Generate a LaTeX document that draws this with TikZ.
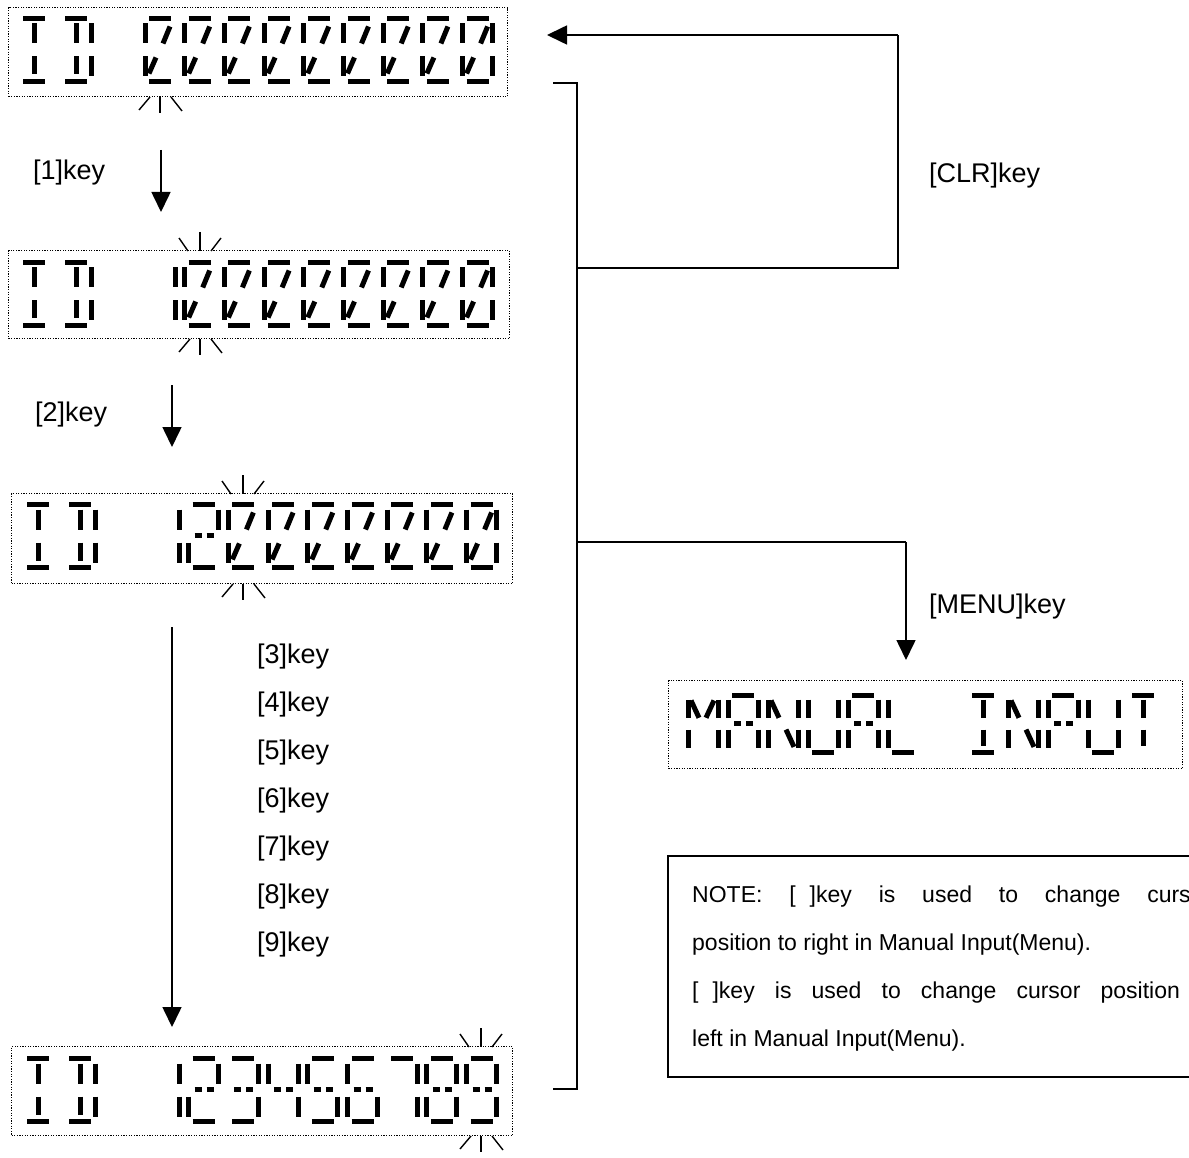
\documentclass[tikz,border=0pt]{standalone}
\usepackage{fontspec}
\setmainfont{Liberation Sans}
\usetikzlibrary{arrows.meta}
\tikzset{
  seg/.style={line width=5pt},
  disp/.style={draw, dash pattern=on 1.2pt off 1.4pt, line width=1.2pt, inner sep=0pt, anchor=north west},
  conn/.style={line width=1.8pt},
  arr/.style={line width=1.6pt, -{Triangle[width=19pt,length=20pt]}},
  blink/.style={line width=1.4pt},
  lbl/.style={font=\fontsize{27}{32}\selectfont, anchor=base west, inner sep=0pt},
  notetxt/.style={font=\fontsize{23}{28}\selectfont, anchor=base west, inner sep=0pt},
}
% segments (x relative to cell left, y relative to top bar centre, downwards)
\def\Sga{\draw[seg] (6,0)--(28,0);}
\def\Sgd{\draw[seg] (6,63)--(28,63);}
\def\Sggl{\draw[seg] (8,31)--(15,31);}
\def\Sggr{\draw[seg] (20,31)--(27,31);}
\def\Sgf{\draw[seg] (2,5)--(2,25);}
\def\Sge{\draw[seg] (2,38)--(2,58);}
\def\Sgb{\draw[seg] (32,5)--(32,25);}
\def\Sgc{\draw[seg] (32,38)--(32,58);}
\def\Sgdu{\draw[seg] (20,25)--(27,8);}
\def\Sgdl{\draw[seg] (6,55)--(13,39);}
\def\Sgcu{\draw[seg] (17,5)--(17,25);}
\def\Sgcl{\draw[seg] (17,38)--(17,56);}
\def\Sgml{\draw[seg] (5,6)--(13,25);}
\def\Sgmr{\draw[seg] (28,6)--(20,25);}
\def\Sgnl{\draw[seg] (20,38)--(28,57);}
% characters
\def\Cz{a,d,f,e,du,dl}
\def\Czl{a,d,f,e,du,dl,b,c}
\def\CI{a,d,cu,cl}
\def\CD{a,d,cu,cl,b,c}
\def\Cone{b,c}
\def\Ctwo{a,b,gl,gr,e,d}
\def\Cthree{a,b,gl,gr,c,d}
\def\Cfour{f,b,gl,gr,c}
\def\Cfive{a,f,gl,gr,c,d}
\def\Csix{a,f,gl,gr,e,c,d}
\def\Cseven{a,b,c}
\def\Ceight{a,b,c,d,e,f,gl,gr}
\def\Cnine{a,f,b,gl,gr,c,d}
\def\CM{f,e,b,c,ml,mr}
\def\CA{a,f,b,gl,gr,e,c}
\def\CN{f,e,b,c,ml,nl}
\def\CU{f,e,b,c,d}
\def\CL{f,e,d}
\def\CP{a,f,b,gl,gr,e}
\def\CT{a,cu,cl}
\newcommand\chr[3]{\begin{scope}[shift={(#1,#2)}]\foreach \s in #3 {\csname Sg\s\endcsname}\end{scope}}
\newcommand\blinkup[2]{%
  \draw[blink] (#1-21,#2-12)--(#1-12,#2+1);
  \draw[blink] (#1,#2-18)--(#1,#2+1);
  \draw[blink] (#1+11,#2+1)--(#1+21,#2-12);}
\newcommand\blinkdn[2]{%
  \draw[blink] (#1-21,#2+13)--(#1-10,#2);
  \draw[blink] (#1,#2)--(#1,#2+16);
  \draw[blink] (#1+11,#2)--(#1+22,#2+14);}
\begin{document}
\begin{tikzpicture}[x=1pt,y=-1pt]
\useasboundingbox (0,0) rectangle (1189,1158);
\clip (0,0) rectangle (1189,1158);
\fill[white] (0,0) rectangle (1189,1158);

% display boxes
\node[disp, minimum width=499pt, minimum height=89pt] (d1) at (8,7) {};
\node[disp, minimum width=501pt, minimum height=88pt] (d2) at (8,250) {};
\node[disp, minimum width=501pt, minimum height=90pt] (d3) at (11,493) {};
\node[disp, minimum width=501pt, minimum height=89pt] (d4) at (11,1046) {};
\node[disp, minimum width=514pt, minimum height=88pt] (dm) at (668,680) {};

% display 1
\chr{17}{18.5}{\CI}\chr{59}{18.5}{\CD}
\foreach \i in {0,...,7}{\chr{143+39.7*\i}{18.5}{\Cz}}
\chr{143+39.7*8}{18.5}{\Czl}
\blinkdn{160}{97}

% display 2
\chr{17}{262.5}{\CI}\chr{59}{262.5}{\CD}
\chr{143}{262.5}{\Cone}
\foreach \i in {1,...,7}{\chr{143+39.7*\i}{262.5}{\Cz}}
\chr{143+39.7*8}{262.5}{\Czl}
\blinkup{200}{250}
\blinkdn{200}{339}

% display 3
\chr{21}{504.5}{\CI}\chr{63}{504.5}{\CD}
\chr{147}{504.5}{\Cone}
\chr{147+39.7}{504.5}{\Ctwo}
\foreach \i in {2,...,7}{\chr{147+39.7*\i}{504.5}{\Cz}}
\chr{147+39.7*8}{504.5}{\Czl}
\blinkup{243}{493}
\blinkdn{243}{584}

% display 4
\chr{21}{1058.5}{\CI}\chr{63}{1058.5}{\CD}
\chr{147}{1058.5}{\Cone}
\chr{147+39.7}{1058.5}{\Ctwo}
\chr{147+39.7*2}{1058.5}{\Cthree}
\chr{147+39.7*3}{1058.5}{\Cfour}
\chr{147+39.7*4}{1058.5}{\Cfive}
\chr{147+39.7*5}{1058.5}{\Csix}
\chr{147+39.7*6}{1058.5}{\Cseven}
\chr{147+39.7*7}{1058.5}{\Ceight}
\chr{147+39.7*8}{1058.5}{\Cnine}
\blinkup{481}{1046}
\blinkdn{481}{1136}

% MANUAL INPUT display
\begin{scope}[shift={(686,695)}, yscale=0.91]
\chr{0}{0}{\CM}
\chr{40}{0}{\CA}
\chr{80}{0}{\CN}
\chr{120}{0}{\CU}
\chr{160}{0}{\CA}
\chr{200}{0}{\CL}
\chr{280}{0}{\CI}
\chr{320}{0}{\CN}
\chr{360}{0}{\CP}
\chr{400}{0}{\CU}
\chr{440}{0}{\CT}
\end{scope}

% left arrows
\coordinate (a1s) at (161,150); \coordinate (a1e) at (161,212);
\coordinate (a2s) at (172,385); \coordinate (a2e) at (172,447);
\coordinate (a3s) at (172,627); \coordinate (a3e) at (172,1027);
\draw[arr] (a1s) -- (a1e);
\draw[arr] (a2s) -- (a2e);
\draw[arr] (a3s) -- (a3e);
\node[lbl] (k1) at (33,180) {[1]key};
\node[lbl] (k2) at (35,421) {[2]key};
\foreach \n [count=\j from 0] in {3,...,9}{
  \node[lbl] (k\n) at (257,663+48*\j) {[\n]key};
}

% right bracket
\coordinate (bt0) at (553,83); \coordinate (bt) at (577,83);
\coordinate (bb0) at (553,1089); \coordinate (bb) at (577,1089);
\coordinate (bclr) at (577,268); \coordinate (bmenu) at (577,542);
\draw[conn] (bt0) -- (bt) -- (bb) -- (bb0);
\coordinate (clrA) at (898,268); \coordinate (clrB) at (898,35); \coordinate (clrE) at (547,35);
\draw[conn] (bclr) -- (clrA) -- (clrB);
\draw[arr] (clrB) -- (clrE);
\coordinate (mnA) at (906,542); \coordinate (mnE) at (906,660);
\draw[conn] (bmenu) -- (mnA);
\draw[arr] (mnA) -- (mnE);
\node[lbl] (kclr) at (929,183) {[CLR]key};
\node[lbl] (kmenu) at (929,613) {[MENU]key};

% note box
\draw[line width=1.5pt] (1200,856) -- (668,856) -- (668,1077) -- (1200,1077);
\node[notetxt] (n1) at (692,902) {\makebox[519pt][s]{NOTE: [\hspace{14pt}]key is used to change cursor}};
\node[notetxt] (n2) at (692,950) {position to right in Manual Input(Menu).};
\node[notetxt] (n3) at (692,998) {\makebox[527pt][s]{[\hspace{14pt}]key is used to change cursor position to}};
\node[notetxt] (n4) at (692,1046) {left in Manual Input(Menu).};
\end{tikzpicture}
\end{document}
